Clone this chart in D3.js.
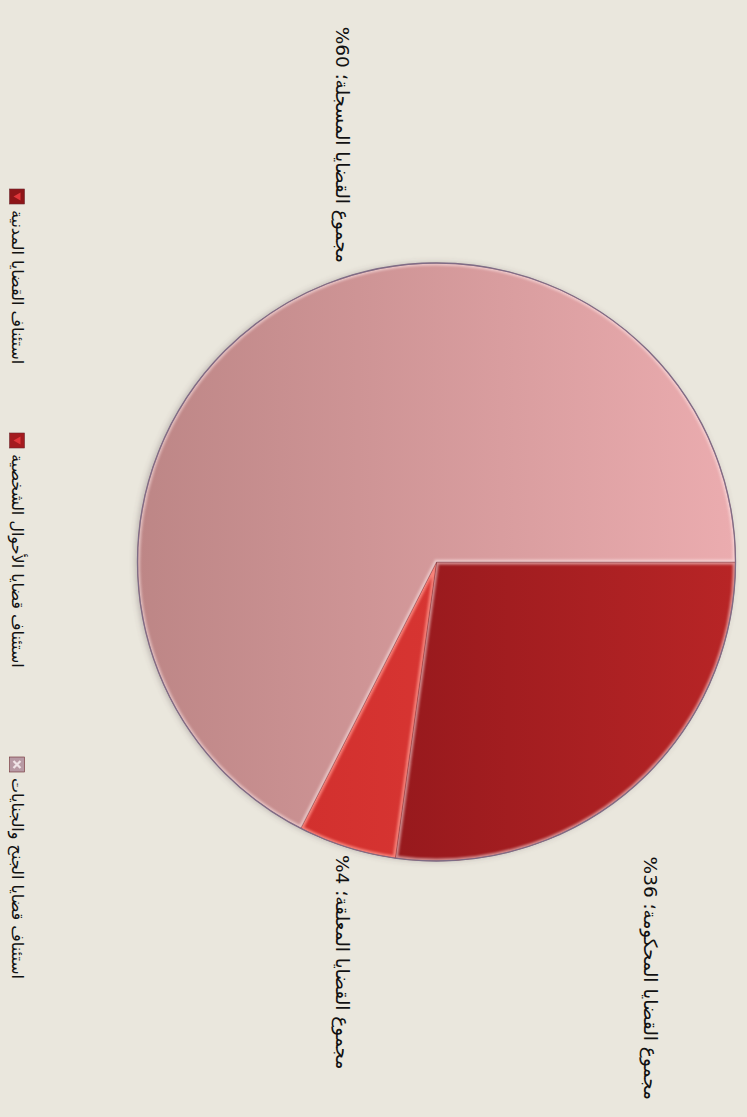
<!DOCTYPE html>
<html><head><meta charset="utf-8">
<script src="https://cdn.jsdelivr.net/npm/d3@7"></script>
<style>html,body{margin:0;padding:0;background:#eae7dd;} svg{display:block}</style>
</head><body>
<script>
// ---- data ----
const categories = ["استئناف القضايا المدنية", "استئناف قضايا الأحوال الشخصية", "استئناف قضايا الجنح والجنايات"];
const sliceShares = [27.2, 5.3, 67.5];
const labelTexts = ["مجموع القضايا المحكومة؛ 36%", "مجموع القضايا المعلقة؛ 4%", "مجموع القضايا المسجلة؛ 60%"];

// ---- layout / style ----
const W = 747, H = 1117;
const cx = 562, cy = 310.5, R = 299;
const fills = [
  {top: "#b82526", bottom: "#7e1016"},
  {top: "#e2403b", bottom: "#cc2a29"},
  {top: "#ebacaf", bottom: "#bd8686"}
];
const markerFills = ["#8e1518", "#a41b1f", "#b89aa4"];
// label anchors: visual left edge ('L') or right edge ('R'), centre y (original orientation)
const labelPos = [{x: 1100, y: 97, side: "R"}, {x: 855, y: 405, side: "L"}, {x: 263, y: 405, side: "R"}];
const legendX = [189, 433, 757], legendY = 730;
const fontFam = "'DejaVu Sans', sans-serif";

const svg = d3.select("body").append("svg").attr("width", W).attr("height", H);
svg.append("rect").attr("width", W).attr("height", H).attr("fill", "#eae7dd");
const defs = svg.append("defs");

fills.forEach((f, i) => {
  const lg = defs.append("linearGradient").attr("id", "grad" + i)
    .attr("gradientUnits", "userSpaceOnUse").attr("x1", 0).attr("y1", -R).attr("x2", 0).attr("y2", R);
  lg.append("stop").attr("offset", 0).attr("stop-color", f.top);
  lg.append("stop").attr("offset", 1).attr("stop-color", f.bottom);
});
const sh = defs.append("filter").attr("id", "shadow").attr("x", "-10%").attr("y", "-10%").attr("width", "120%").attr("height", "120%");
sh.append("feDropShadow").attr("dx", 0).attr("dy", 2).attr("stdDeviation", 3).attr("flood-color", "#5a4a50").attr("flood-opacity", 0.35);
const bl = defs.append("filter").attr("id", "soft");
bl.append("feGaussianBlur").attr("stdDeviation", 1.2);

// rotated chart group (chart drawn in its original landscape orientation)
const g = svg.append("g").attr("transform", `translate(${W},0) rotate(90)`);
const pg = g.append("g").attr("transform", `translate(${cx},${cy})`);

const arcs = d3.pie().sort(null).value(d => d)(sliceShares);
const arc = d3.arc().innerRadius(0).outerRadius(R);

pg.append("circle").attr("r", R).attr("fill", "#c98f93").attr("filter", "url(#shadow)");

arcs.forEach((a, i) => {
  const d = arc(a);
  const sg = pg.append("g");
  sg.append("path").attr("d", d).attr("fill", `url(#grad${i})`);
  const cp = sg.append("clipPath").attr("id", "ic" + i);
  cp.append("path").attr("d", d);
  sg.append("path").attr("d", d).attr("fill", "none")
    .attr("stroke", i === 1 ? "rgba(255,150,140,0.8)" : "rgba(255,235,235,0.55)").attr("stroke-width", 5)
    .attr("clip-path", `url(#ic${i})`).attr("filter", "url(#soft)");
  sg.append("path").attr("d", d).attr("fill", "none")
    .attr("stroke", "rgba(80,20,30,0.35)").attr("stroke-width", 0.8);
});
pg.append("circle").attr("r", R).attr("fill", "none").attr("stroke", "#7f6c86").attr("stroke-width", 1.3);

// data labels
labelTexts.forEach((t, i) => {
  const p = labelPos[i];
  const tx = g.append("text").attr("direction", "rtl").attr("font-family", fontFam)
    .attr("font-size", 18.5).attr("fill", "#111").attr("dominant-baseline", "central")
    .attr("text-anchor", "middle").text(t);
  const w = tx.node().getComputedTextLength();
  tx.attr("x", p.side === "L" ? p.x + w / 2 : p.x - w / 2).attr("y", p.y);
});

// legend
categories.forEach((c, i) => {
  const lx = legendX[i];
  const mg = g.append("g").attr("transform", `translate(${lx},${legendY - 7.5})`);
  mg.append("rect").attr("width", 15).attr("height", 15).attr("fill", markerFills[i]).attr("stroke", "#6d2a30").attr("stroke-width", 0.6);
  if (i < 2) {
    mg.append("path").attr("d", "M3.5,4 L11.5,4 L7.5,11 Z").attr("fill", "#e0363a");
  } else {
    mg.append("path").attr("d", "M4,4 L11,11 M11,4 L4,11").attr("stroke", "#efe3e6").attr("stroke-width", 2.2);
  }
  const tx = g.append("text").attr("direction", "rtl").attr("font-family", fontFam)
    .attr("font-size", 16).attr("fill", "#111").attr("dominant-baseline", "central")
    .attr("text-anchor", "middle").text(c);
  const w = tx.node().getComputedTextLength();
  tx.attr("x", lx + 21 + w / 2).attr("y", legendY);
});
</script>
</body></html>
